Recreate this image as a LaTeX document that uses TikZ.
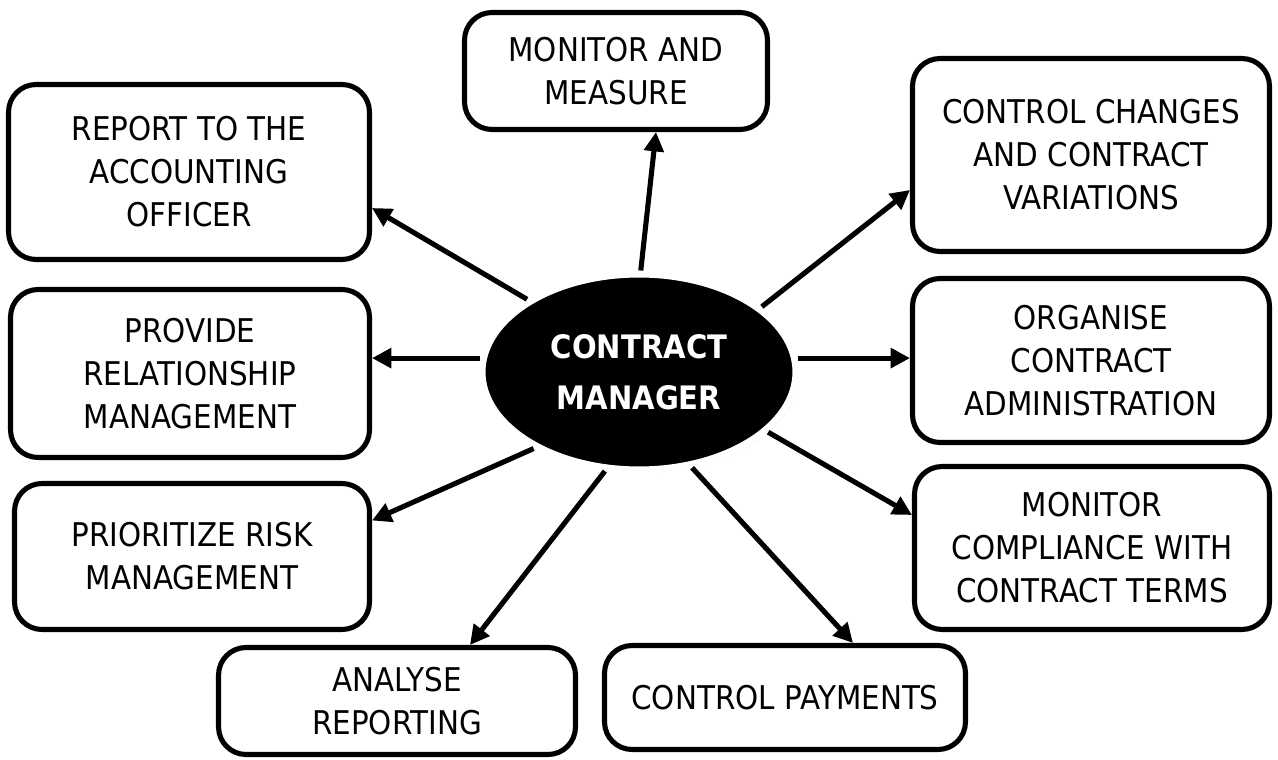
\documentclass[tikz,border=0pt]{standalone}
\usepackage{fontspec}
\setmainfont{DejaVu Sans}[FakeStretch=0.9]
\usepackage{tikz}
\usetikzlibrary{arrows.meta,shapes,shadows,calc,positioning}

\tikzset{
  task/.style={draw, line width=2.9pt, rounded corners=0.55cm, inner sep=0pt, align=center,
               font=\fontsize{18.6}{24.5}\selectfont},
  hub/.style={ellipse, fill=black, draw=white, line width=4pt, inner sep=0pt, align=center,
              text=white, font=\bfseries\fontsize{18.4}{29}\selectfont,
              drop shadow={shadow xshift=1.5pt, shadow yshift=-1.5pt, opacity=0.25, fill=gray}},
  arr/.style={line width=2.9pt, -{Triangle[length=11pt,width=11pt]}}
}

\begin{document}
\begin{tikzpicture}[x=0.02cm, y=-0.02cm]
  \useasboundingbox (0,0) rectangle (1278,760);

  % centre
  \node[hub, minimum width=6.28cm, minimum height=3.92cm] (cm) at (639,372) {CONTRACT\\MANAGER};

  % tasks round the centre
  \node[task, minimum width=6.06cm, minimum height=2.34cm] (mm)  at (616,71)    {MONITOR AND\\MEASURE};
  \node[task, minimum width=7.22cm, minimum height=3.5cm]  (rep) at (189,172)   {REPORT TO THE\\ACCOUNTING\\OFFICER};
  \node[task, minimum width=7.14cm, minimum height=3.86cm] (ccv) at (1091,155)  {CONTROL CHANGES\\AND CONTRACT\\VARIATIONS};
  \node[task, minimum width=7.18cm, minimum height=3.36cm] (prm) at (190,373.5) {PROVIDE\\RELATIONSHIP\\MANAGEMENT};
  \node[task, minimum width=7.14cm, minimum height=3.28cm] (oca) at (1091,360.5){ORGANISE\\CONTRACT\\ADMINISTRATION};
  \node[task, minimum width=7.1cm,  minimum height=2.92cm] (prk) at (192,556.5) {PRIORITIZE RISK\\MANAGEMENT};
  \node[task, minimum width=7.1cm,  minimum height=3.26cm] (mct) at (1092,548)  {MONITOR\\COMPLIANCE WITH\\CONTRACT TERMS};
  \node[task, minimum width=7.14cm, minimum height=2.14cm] (ana) at (397,701)   {ANALYSE\\REPORTING};
  \node[task, minimum width=7.22cm, minimum height=2.08cm] (pay) at (785,697.5) {CONTROL PAYMENTS};

  % arrows
  \draw[arr] (cm.89)  -- ([xshift=0.8cm]mm.south);
  \draw[arr] (cm.147) -- ([yshift=-0.72cm]rep.east);
  \draw[arr] (cm.28)  -- ([yshift=-0.7cm]ccv.west);
  \draw[arr] (cm.175) -- (cm.175 -| prm.east);
  \draw[arr] (cm.5)   -- (cm.5 -| oca.west);
  \draw[arr] (cm.216) -- ([yshift=0.72cm]prk.east);
  \draw[arr] (cm.-25) -- ([yshift=0.66cm]mct.west);
  \draw[arr] (cm.251) -- ([xshift=1.46cm]ana.north);
  \draw[arr] (cm.299) -- ([xshift=1.36cm]pay.north);
\end{tikzpicture}
\end{document}
